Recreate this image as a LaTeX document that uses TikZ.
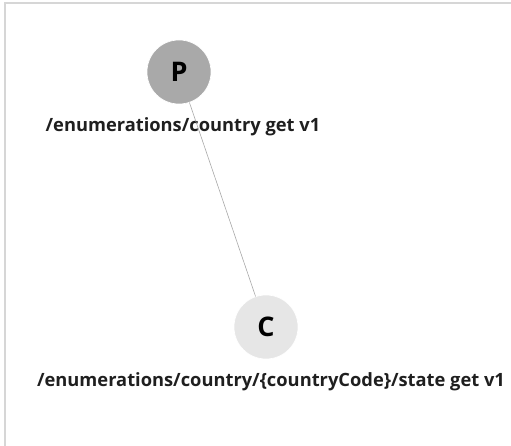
\documentclass[tikz,border=0pt]{standalone}
\usepackage{tikz}
\usepackage{fontspec}
\setmainfont{Open Sans}
\usepackage{xcolor}
\definecolor{parentgray}{HTML}{A9A9A9}
\definecolor{childgray}{HTML}{E6E6E6}
\definecolor{edgegray}{HTML}{A8A8A8}
\definecolor{framegray}{HTML}{D6D6D6}
\tikzset{
  vertex/.style={circle,minimum size=64pt,inner sep=0pt,draw=white,line width=0.6pt,font=\fontsize{27}{29}\selectfont\bfseries},
  caption/.style={font=\fontsize{18.3}{20}\selectfont\bfseries,text=black!88,inner sep=0pt}
}
\begin{document}
\begin{tikzpicture}[x=1pt,y=-1pt]
    \useasboundingbox (0,0) rectangle (511,446);
    \draw [framegray,line width=1.5pt] (5,446) -- (5,3) -- (511,3);
    \node (P) at (179,72) [vertex,fill=parentgray] {P};
    \node (C) at (266,327) [vertex,fill=childgray] {C};
    \node (Plabel) at (183,127) [caption] {/enumerations/country get v1};
    \node (Clabel) at (271,382) [caption] {/enumerations/country/\{countryCode\}/state get v1};
    \draw [edgegray,line width=0.6pt] (P) -- (C);
\end{tikzpicture}
\end{document}
